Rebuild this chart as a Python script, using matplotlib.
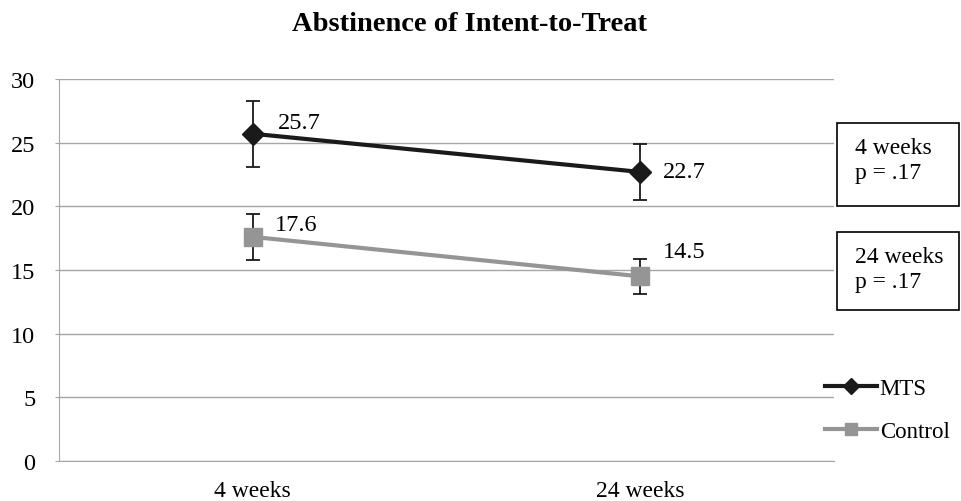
import matplotlib.pyplot as plt
from matplotlib.patches import Rectangle

# data
timepoints = ["4 weeks", "24 weeks"]
mts_values = [25.7, 22.7]
mts_err = [2.6, 2.2]
control_values = [17.6, 14.5]
control_err = [1.8, 1.4]
mts_labels = ["25.7", "22.7"]
control_labels = ["17.6", "14.5"]
box_texts = ["4 weeks\np = .17", "24 weeks\np = .17"]

plt.rcParams['font.family'] = ['Liberation Serif', 'DejaVu Serif']

fig = plt.figure(figsize=(9.61, 5.02), dpi=100)
ax = fig.add_axes([59 / 961, 40 / 502, 775 / 961, 382 / 502])

x = list(range(len(timepoints)))
grid_col = "#a6a6a6"

ax.errorbar(x, mts_values, yerr=mts_err, fmt='none', ecolor="#1a1a1a",
            elinewidth=1.3, capsize=5, capthick=1.3, zorder=3)
ax.errorbar(x, control_values, yerr=control_err, fmt='none', ecolor="#1a1a1a",
            elinewidth=1.3, capsize=5, capthick=1.3, zorder=3)
ax.plot(x, mts_values, color="#1a1a1a", lw=3, marker='D', ms=11,
        label="MTS", zorder=4)
ax.plot(x, control_values, color="#959595", lw=3, marker='s', ms=13,
        label="Control", zorder=4)

# data labels
lab_size = 17.5
ax.annotate(mts_labels[0], (x[0], mts_values[0]), xytext=(18, 8),
            textcoords='offset points', fontsize=lab_size, va='center')
ax.annotate(mts_labels[1], (x[1], mts_values[1]), xytext=(16.5, 0),
            textcoords='offset points', fontsize=lab_size, va='center')
ax.annotate(control_labels[0], (x[0], control_values[0]), xytext=(16, 9),
            textcoords='offset points', fontsize=lab_size, va='center')
ax.annotate(control_labels[1], (x[1], control_values[1]), xytext=(16, 18),
            textcoords='offset points', fontsize=lab_size, va='center')

ax.set_xlim(-0.5, 1.5)
ax.set_ylim(0, 30)
ax.set_yticks(range(0, 31, 5))
ax.set_xticks(x)
ax.set_xticklabels(timepoints)
ax.tick_params(axis='y', length=3, pad=14, color=grid_col, labelsize=17.5)
ax.tick_params(axis='x', length=0, pad=14, labelsize=17)
ax.grid(axis='y', color=grid_col, lw=1)
ax.set_axisbelow(True)
for s in ['top', 'right']:
    ax.spines[s].set_visible(False)
ax.spines['left'].set_color(grid_col)
ax.spines['bottom'].set_color(grid_col)

fig.text(0.5 * (292 + 648) / 961, 1 - 31 / 502, "Abstinence of Intent-to-Treat",
         fontsize=20.5, fontweight='bold', ha='center', va='baseline')

# p-value boxes
for (top, bot), mid, txt in zip([(124, 207), (233, 311)], [161, 270], box_texts):
    fig.add_artist(Rectangle((837 / 961, 1 - bot / 502), 122 / 961, (bot - top) / 502,
                             transform=fig.transFigure, fill=False, ec='black', lw=1.2))
    fig.text(855 / 961, 1 - mid / 502, txt, fontsize=17,
             va='center', ha='left', linespacing=1.25)

ax.legend(loc='center left', bbox_to_anchor=(825 / 961, 1 - 411 / 502),
          bbox_transform=fig.transFigure, frameon=False, fontsize=16.5,
          handlelength=2.26, handletextpad=0.13, labelspacing=0.95, borderaxespad=0,
          borderpad=0, markerscale=0.7)

plt.savefig("out.png", dpi=100)
